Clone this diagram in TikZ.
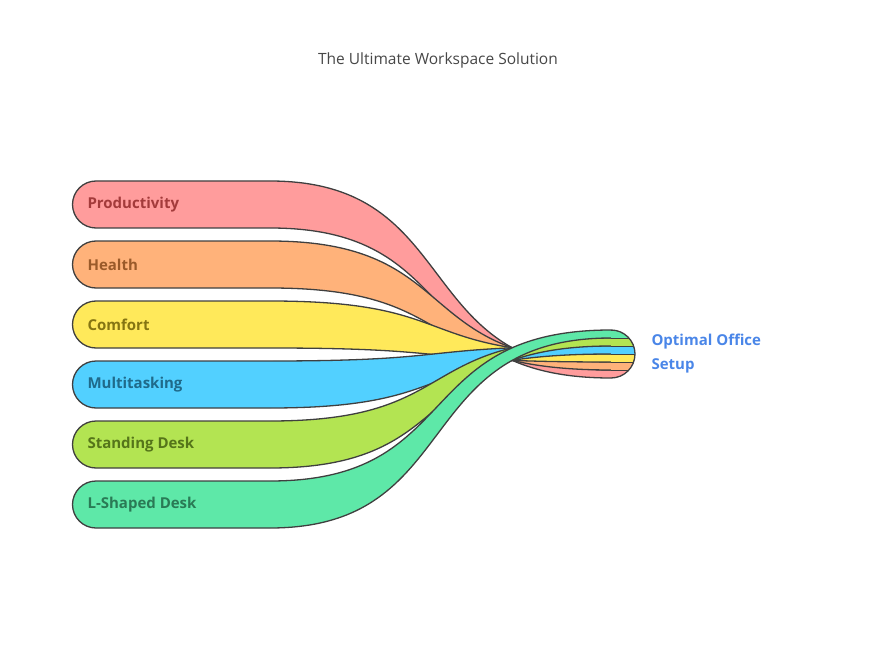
\documentclass[tikz,border=0pt]{standalone}
\usepackage{fontspec}
\setmainfont{Open Sans}
\definecolor{cA}{HTML}{FF9C9C}\definecolor{tA}{HTML}{A33B3B}
\definecolor{cB}{HTML}{FFB27A}\definecolor{tB}{HTML}{9A5A2A}
\definecolor{cC}{HTML}{FFE95A}\definecolor{tC}{HTML}{857512}
\definecolor{cD}{HTML}{52D0FF}\definecolor{tD}{HTML}{1F6A8A}
\definecolor{cE}{HTML}{B3E452}\definecolor{tE}{HTML}{55751A}
\definecolor{cF}{HTML}{5EE8A8}\definecolor{tF}{HTML}{2A7A55}
\definecolor{edge}{HTML}{3F3F3F}
\tikzset{label/.style={anchor=west, font=\fontsize{15}{17}\selectfont\bfseries}}
\begin{document}
\begin{tikzpicture}[x=1pt,y=-1pt]
\useasboundingbox (0,0) rectangle (877,660);
% Title
\node[font=\fontsize{15.5}{18}\selectfont, text=black!72] (title) at (438,60) {The Ultimate Workspace Solution};

% Bands
\foreach \i/\c/\t/\txt in {0/cA/tA/Productivity,1/cB/tB/Health,2/cC/tC/Comfort,3/cD/tD/Multitasking,4/cE/tE/Standing Desk,5/cF/tF/L-Shaped Desk}{
  \pgfmathsetmacro{\yt}{181+60*\i}
  \pgfmathsetmacro{\yb}{\yt+47}
  \pgfmathsetmacro{\rt}{370-8*\i}
  \pgfmathsetmacro{\rb}{\rt+8}
  \fill[\c] (96,\yt) -- (270,\yt) .. controls (465,\yt) and (410,\rt) .. (611,\rt) -- (611,\rb)
     .. controls (410,\rb) and (465,\yb) .. (270,\yb) -- (96,\yb)
     arc[start angle=-90, end angle=-270, radius=23.5pt] -- cycle;
  \draw[edge, line width=1.3pt] (611,\rt) .. controls (410,\rt) and (465,\yt) .. (270,\yt) -- (96,\yt)
     arc[start angle=90, end angle=270, radius=23.5pt] -- (270,\yb)
     .. controls (465,\yb) and (410,\rb) .. (611,\rb);
  \node[label, text=\t] (lab\i) at (84,\yt+23.5) {\txt};
}

% Rounded end of the bundle
\begin{scope}
  \clip (611,354) circle[radius=24pt];
  \foreach \i/\c in {0/cA,1/cB,2/cC,3/cD,4/cE,5/cF}{
    \pgfmathsetmacro{\rt}{370-8*\i}
    \fill[\c] (611,\rt) rectangle (640,\rt+8);
    \draw[edge, line width=1.3pt] (611,\rt) -- (640,\rt);
  }
\end{scope}
\draw[edge, line width=1.3pt] (611,330) arc[start angle=90, end angle=-90, radius=24pt];

\node[anchor=north west, align=left, text={rgb,255:red,74;green,134;blue,232},
  font=\fontsize{15}{24}\selectfont\bfseries] (goal) at (648,330) {Optimal Office\\Setup};
\end{tikzpicture}
\end{document}
